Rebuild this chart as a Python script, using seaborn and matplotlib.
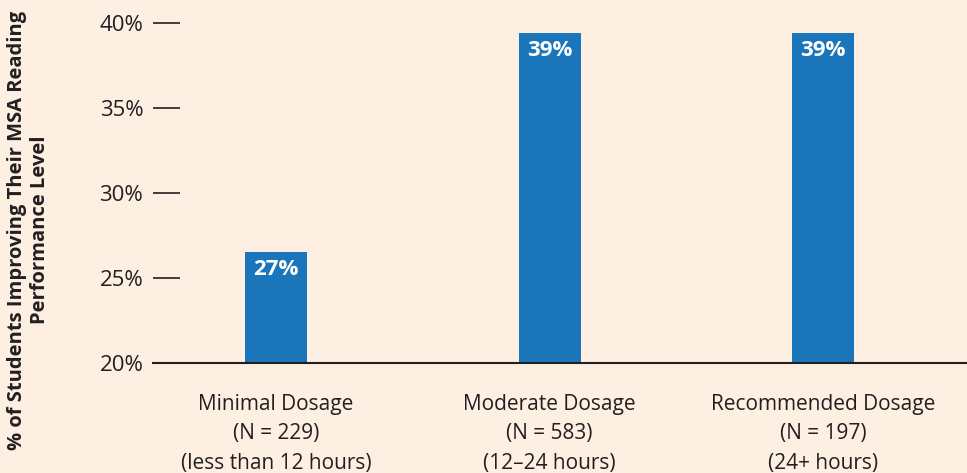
import matplotlib
matplotlib.use("Agg")
import matplotlib.pyplot as plt
import seaborn as sns
import pandas as pd

categories = ["Minimal Dosage\n(N = 229)\n(less than 12 hours)",
              "Moderate Dosage\n(N = 583)\n(12\u201324 hours)",
              "Recommended Dosage\n(N = 197)\n(24+ hours)"]
values = [26.5, 39.4, 39.4]
bar_labels = ["27%", "39%", "39%"]
yticks = [20, 25, 30, 35, 40]
ytick_labels = ["20%", "25%", "30%", "35%", "40%"]

BG = "#FDEFE2"
BAR = "#1A75BB"
TXT = "#231F20"

sns.set_theme(style="white", rc={"figure.facecolor": BG, "axes.facecolor": BG})
plt.rcParams["font.family"] = ["Open Sans", "DejaVu Sans"]

fig = plt.figure(figsize=(9.67, 4.73), dpi=100)
ax = fig.add_axes([153/967, 110/473, 814/967, 340/473])

df = pd.DataFrame({"cat": categories, "val": values})
sns.barplot(data=df, x="cat", y="val", color=BAR, saturation=1, width=0.227,
            linewidth=0, ax=ax)

ax.set_ylim(20, 40)
ax.set_xlim(-0.45, 2.526)
ax.set_yticks(yticks)
ax.set_yticklabels(ytick_labels, fontsize=16, color=TXT)
ax.tick_params(axis="y", direction="in", length=19.5, width=1.2, color=TXT, pad=7, left=True)
ax.tick_params(axis="x", length=0, pad=22, labelsize=15, labelcolor=TXT)
for lab in ax.get_xticklabels():
    lab.set_linespacing(1.55)

for i, (v, lbl) in enumerate(zip(values, bar_labels)):
    ax.annotate(lbl, (i, v), xytext=(0, -5), textcoords="offset points",
                ha="center", va="top", color="white", fontsize=16, fontweight="bold")

for s in ["left", "right", "top"]:
    ax.spines[s].set_visible(False)
ax.spines["bottom"].set_color(TXT)
ax.spines["bottom"].set_linewidth(1.5)

ax.set_xlabel("")
ax.set_ylabel("")
fig.text(29/967, 1 - 230/473,
         "% of Students Improving Their MSA Reading\nPerformance Level",
         rotation=90, ha="center", va="center", fontsize=14.5, fontweight="bold",
         color=TXT, linespacing=1.2)

fig.savefig("out.png", dpi=100, facecolor=BG)
